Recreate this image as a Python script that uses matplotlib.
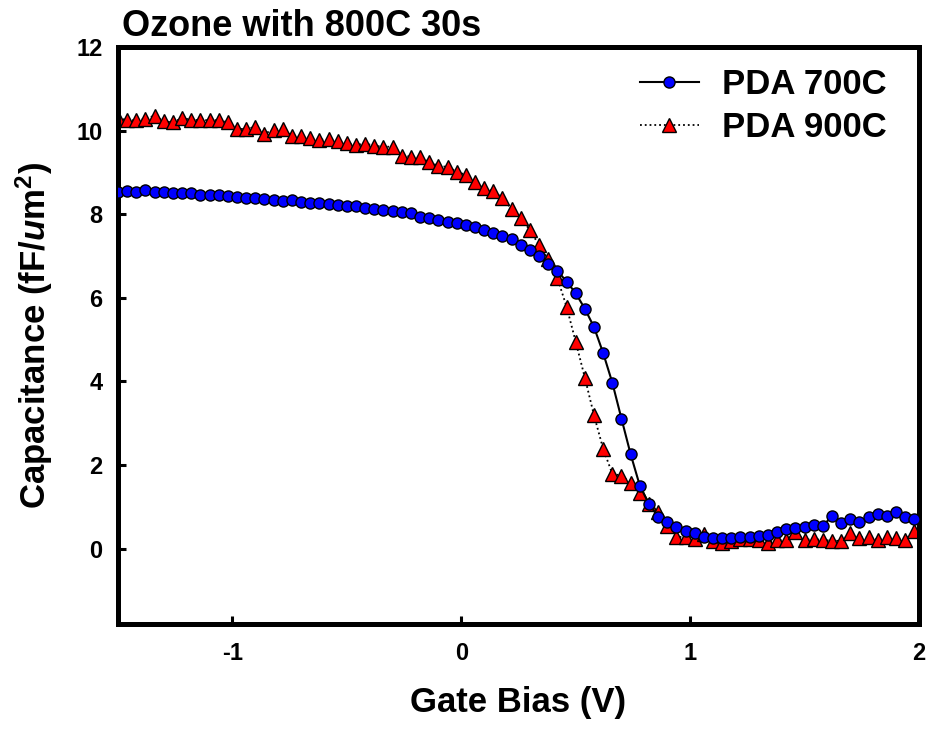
import numpy as np
import matplotlib
matplotlib.use('Agg')
import matplotlib.pyplot as plt

plt.rcParams['font.family'] = ['Liberation Sans', 'DejaVu Sans']
plt.rcParams['font.weight'] = 'bold'
plt.rcParams['axes.unicode_minus'] = False
plt.rcParams['mathtext.fontset'] = 'custom'
plt.rcParams['mathtext.rm'] = 'Liberation Sans:bold'
plt.rcParams['mathtext.it'] = 'Liberation Sans:bold:italic'
plt.rcParams['mathtext.bf'] = 'Liberation Sans:bold'

# Gate bias sweep (V), 0.04 V steps
gate_bias = [round(-1.5 + 0.04 * k, 2) for k in range(88)]

# PDA 700C capacitance (fF/um^2)
cap_700 = [8.54, 8.56, 8.54, 8.58, 8.53, 8.54, 8.51, 8.51, 8.50, 8.47,
           8.46, 8.45, 8.43, 8.41, 8.39, 8.38, 8.36, 8.35, 8.31, 8.33,
           8.30, 8.28, 8.27, 8.25, 8.23, 8.20, 8.19, 8.16, 8.13, 8.11,
           8.08, 8.05, 8.02, 7.94, 7.90, 7.86, 7.82, 7.79, 7.74, 7.69,
           7.63, 7.56, 7.48, 7.40, 7.27, 7.14, 7.00, 6.81, 6.65, 6.39,
           6.11, 5.74, 5.30, 4.68, 3.97, 3.11, 2.26, 1.51, 1.07, 0.77,
           0.65, 0.53, 0.43, 0.37, 0.29, 0.26, 0.25, 0.26, 0.29, 0.29,
           0.31, 0.34, 0.39, 0.47, 0.50, 0.53, 0.57, 0.54, 0.79, 0.61,
           0.72, 0.65, 0.75, 0.83, 0.78, 0.89, 0.75, 0.71]

# PDA 900C capacitance (fF/um^2)
cap_900 = [10.30, 10.25, 10.25, 10.28, 10.36, 10.22, 10.20, 10.30, 10.26, 10.25,
           10.25, 10.25, 10.20, 10.04, 10.04, 10.09, 9.93, 10.02, 10.04, 9.88,
           9.86, 9.82, 9.78, 9.80, 9.74, 9.70, 9.66, 9.69, 9.64, 9.61,
           9.62, 9.40, 9.38, 9.37, 9.24, 9.16, 9.13, 9.02, 8.94, 8.76,
           8.62, 8.55, 8.39, 8.12, 7.91, 7.62, 7.26, 6.92, 6.47, 5.79,
           4.95, 4.09, 3.19, 2.39, 1.79, 1.75, 1.57, 1.33, 1.06, 0.89,
           0.55, 0.29, 0.27, 0.23, 0.35, 0.19, 0.14, 0.18, 0.23, 0.23,
           0.21, 0.14, 0.21, 0.21, 0.39, 0.21, 0.23, 0.21, 0.19, 0.19,
           0.37, 0.26, 0.29, 0.21, 0.27, 0.26, 0.21, 0.43]

fig = plt.figure(figsize=(9.29, 7.34), dpi=100)
ax = fig.add_axes([118 / 929, 1 - 624 / 734, 801 / 929, 577 / 734])

ax.plot(gate_bias, cap_700, '-', color='black', lw=1.5, marker='o',
        markersize=8, markerfacecolor='#0000ff', markeredgecolor='black',
        markeredgewidth=1.0, label='PDA 700C', zorder=3)
ax.plot(gate_bias, cap_900, ':', color='black', lw=1.3, marker='^',
        markersize=9.5, markerfacecolor='#ff0000', markeredgecolor='black',
        markeredgewidth=1.0, label='PDA 900C', zorder=2)

ax.set_xlim(-1.5, 2)
ax.set_ylim(-1.8, 12)
ax.set_xticks([-1, 0, 1, 2])
ax.set_yticks([0, 2, 4, 6, 8, 10, 12])
ax.tick_params(direction='in', length=6, width=2.2, labelsize=17)
ax.tick_params(axis='x', pad=13)
ax.tick_params(axis='y', pad=11)
for s in ax.spines.values():
    s.set_linewidth(3.6)

ax.set_xlabel('Gate Bias (V)', fontsize=25, fontweight='bold')
ax.xaxis.set_label_coords(0.5, -0.107)
ax.set_ylabel(r'Capacitance (fF/$\mathit{u}$m$^{2}$)', fontsize=25, fontweight='bold')
ax.yaxis.set_label_coords(-0.079, 0.5)

fig.text(122 / 929, 1 - 36 / 734, 'Ozone with 800C 30s', fontsize=26,
         fontweight='bold', va='baseline', ha='left')

ax.legend(loc='upper left', bbox_to_anchor=(640 / 929, 1 - 68 / 734),
          bbox_transform=fig.transFigure, frameon=False, fontsize=25,
          handlelength=1.69, handletextpad=0.66, labelspacing=0.3,
          borderpad=0, borderaxespad=0, numpoints=1)

fig.savefig('out.png', dpi=100)
